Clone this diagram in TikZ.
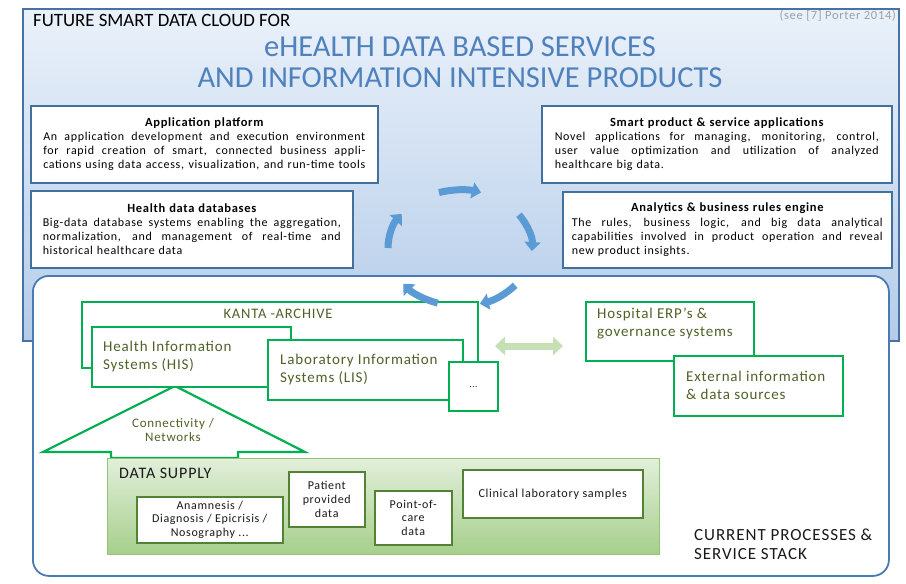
\documentclass[tikz,border=0pt]{standalone}
\usepackage{fontspec}
\setmainfont{Carlito}[LetterSpace=5.5]
\newfontfamily\tfont{Carlito}
\usetikzlibrary{arrows.meta,calc}
\definecolor{cloudTop}{RGB}{234,241,250}
\definecolor{cloudBot}{RGB}{180,204,233}
\definecolor{cloudEdge}{RGB}{70,114,168}
\definecolor{stackEdge}{RGB}{74,122,178}
\definecolor{boxEdge}{RGB}{65,113,156}
\definecolor{titleBlue}{RGB}{79,129,189}
\definecolor{cycBlue}{RGB}{91,155,213}
\definecolor{kgreen}{RGB}{0,176,80}
\definecolor{ktext}{RGB}{79,98,40}
\definecolor{dblGreen}{RGB}{197,224,180}
\definecolor{dsTop}{RGB}{226,239,218}
\definecolor{dsBot}{RGB}{166,207,139}
\definecolor{dsEdge}{RGB}{150,195,120}
\definecolor{dsBox}{RGB}{84,130,53}
\definecolor{refGray}{RGB}{160,160,160}
\newcommand{\jl}[2]{\leavevmode\hbox to #1{\spaceskip=0pt\xspaceskip=0pt\relax #2}}
\begin{document}
\begin{tikzpicture}[x=1pt,y=-1pt,
 cbox/.style={draw=boxEdge, line width=1.6pt, fill=white, inner sep=0pt, anchor=north west, align=left, font=\fontsize{12}{14.2}\selectfont},
 gbox/.style={draw=kgreen, line width=2.2pt, fill=white, inner sep=0pt, anchor=north west},
 gtext/.style={text=ktext, align=left, inner sep=0pt, anchor=west, font=\fontsize{15}{18}\selectfont},
 dbox/.style={draw=dsBox, line width=1.5pt, fill=white, inner sep=0pt, anchor=north west, align=center, text=black!90, font=\fontsize{12}{13.8}\selectfont},
 cyc/.style={draw=cycBlue, line width=7pt, -{Triangle[length=9pt,width=16pt]}},
 dbl/.style={draw=dblGreen, line width=7pt, {Triangle[length=10pt,width=18pt]}-{Triangle[length=10pt,width=18pt]}},
 plain/.style={inner sep=0pt}]
\useasboundingbox (0,0) rectangle (906,584);
% cloud area
\node[draw=cloudEdge, line width=1.8pt, top color=cloudTop, bottom color=cloudBot, minimum width=876pt, minimum height=332pt, anchor=north west, inner sep=0pt] (cloud) at (22,8) {};
\node[plain, anchor=west, font=\tfont\fontsize{18.8}{20}\selectfont] (t1) at (33,20) {FUTURE SMART DATA CLOUD FOR};
\node[plain, anchor=east, text=refGray, font=\fontsize{12.5}{14}\selectfont] (ref) at (896,16) {(see [7] Porter 2014)};
\node[plain, text=titleBlue, font=\tfont\fontsize{30.5}{32}\selectfont] (t2) at (460,47) {eHEALTH DATA BASED SERVICES};
\node[plain, text=titleBlue, font=\tfont\fontsize{30.5}{32}\selectfont] (t3) at (460,78) {AND INFORMATION INTENSIVE PRODUCTS};
\node[cbox, minimum width=347pt, minimum height=77pt, text width=322pt] (app) at (30,105) {\hfill{\fontsize{12.5}{14.2}\selectfont\bfseries Application platform}\hfill\null\\
\jl{322pt}{An application development and execution environment}\\
\jl{322pt}{for rapid creation of smart, connected business appli-}\\
\jl{322pt}{cations using data access, visualization, and run-time tools}\\[2pt]};
\node[cbox, minimum width=322pt, minimum height=77pt, text width=298pt] (hdb) at (30,190) {\hfill{\fontsize{12.5}{14.2}\selectfont\bfseries Health data databases}\hfill\null\\
\jl{298pt}{Big-data database systems enabling the aggregation,}\\
\jl{298pt}{normalization, and management of real-time and}\\
historical healthcare data\\[2pt]};
\node[cbox, minimum width=350pt, minimum height=77pt, text width=324pt] (smart) at (541,105) {\hfill{\fontsize{12.5}{14.2}\selectfont\bfseries Smart product \& service applications}\hfill\null\\
\jl{324pt}{Novel applications for managing, monitoring, control,}\\
\jl{324pt}{user value optimization and utilization of analyzed}\\
healthcare big data.\\[2pt]};
\node[cbox, minimum width=329pt, minimum height=76pt, text width=311pt] (anal) at (562,191) {\hfill{\fontsize{12.5}{14.2}\selectfont\bfseries Analytics \& business rules engine}\hfill\null\\
\jl{311pt}{The rules, business logic, and big data analytical}\\
\jl{311pt}{capabilities involved in product operation and reveal}\\
new product insights.\\[2pt]};
% cycle arrows
\coordinate (cc) at (460,248);
\draw[cyc] ($(cc)+(107:72pt and 58pt)$) arc[start angle=107, end angle=73, x radius=72pt, y radius=58pt];
\draw[cyc] ($(cc)+(35:72pt and 58pt)$) arc[start angle=35, end angle=-3, x radius=72pt, y radius=58pt];
\draw[cyc] ($(cc)+(180:72pt and 58pt)$) arc[start angle=180, end angle=144, x radius=72pt, y radius=58pt];
% current processes area
\node[draw=stackEdge, line width=1.8pt, fill=white, rounded corners=16pt, minimum width=856pt, minimum height=300pt, anchor=north west, inner sep=0pt] (stack) at (32,275) {};
\node[gbox, minimum width=396pt, minimum height=66pt] (kanta) at (81,301) {};
\node[plain, text=ktext, font=\fontsize{14.5}{17}\selectfont] (kanta-t) at (278,314) {KANTA -ARCHIVE};
\draw[cyc] ($(cc)+(-40:72pt and 58pt)$) arc[start angle=-40, end angle=-74, x radius=72pt, y radius=58pt];
\draw[cyc] ($(cc)+(-108:72pt and 58pt)$) arc[start angle=-108, end angle=-142, x radius=72pt, y radius=58pt];
\draw[draw=kgreen, line width=2.2pt, fill=white, line join=miter] (175,386) -- (305,452) -- (238,452) -- (238,458) -- (111,458) -- (111,452) -- (43,452) -- cycle;
\node[plain, text=ktext, align=center, font=\fontsize{13}{14}\selectfont] (conn) at (173,430) {Connectivity /\\Networks};
\node[gbox, minimum width=199pt, minimum height=60pt] (his) at (91,326) {};
\node[gtext] (his-t) at (103,356) {Health Information\\Systems (HIS)};
\node[gbox, minimum width=195pt, minimum height=60pt] (lis) at (267,339) {};
\node[gtext] (lis-t) at (280,369.5) {Laboratory Information\\Systems (LIS)};
\node[gbox, minimum width=49pt, minimum height=49pt, font=\fontsize{9}{9}\selectfont] (more) at (448,361) {...};
\node[gbox, minimum width=168pt, minimum height=59pt] (erp) at (585,301) {};
\node[gtext] (erp-t) at (597,323) {Hospital ERP’s \&\\governance systems};
\node[gbox, minimum width=169pt, minimum height=60pt] (ext) at (673,355) {};
\node[gtext] (ext-t) at (686,385.5) {External information\\\& data sources};
\coordinate (dl) at (495,346);
\coordinate (dr) at (563,346);
\draw[dbl] (dl) -- (dr);
% data supply
\node[draw=dsEdge, line width=1pt, top color=dsTop, bottom color=dsBot, anchor=north west, minimum width=552pt, minimum height=96pt, inner sep=0pt] (supply) at (107,458) {};
\node[plain, anchor=west, text=black!90, font=\fontsize{16}{18}\selectfont] (supply-t) at (119,473) {DATA SUPPLY};
\node[dbox, minimum width=146pt, minimum height=46pt] (anam) at (136,496) {Anamnesis /\\Diagnosis / Epicrisis /\\Nosography ...};
\node[dbox, minimum width=76pt, minimum height=55pt] (pat) at (288,471) {Patient\\provided\\data};
\node[dbox, minimum width=77pt, minimum height=54pt] (poc) at (374,490) {Point-of-\\care\\data};
\node[dbox, minimum width=180pt, minimum height=48pt, font=\fontsize{12.2}{14}\selectfont] (clin) at (462,469) {Clinical laboratory samples};
\node[plain, anchor=west, align=left, text=black!90, font=\fontsize{17}{19}\selectfont] (cps) at (694,544.5) {CURRENT PROCESSES \&\\SERVICE STACK};
\end{tikzpicture}
\end{document}
